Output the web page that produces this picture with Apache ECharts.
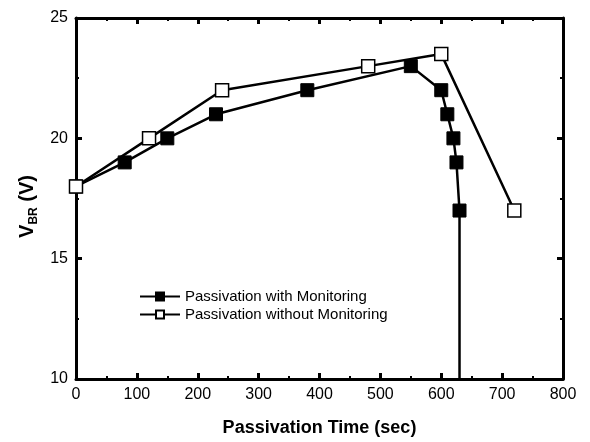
<!DOCTYPE html>
<html>
<head>
<meta charset="utf-8">
<script src="https://cdn.jsdelivr.net/npm/echarts@6/dist/echarts.min.js"></script>
<style>
  html, body { margin: 0; padding: 0; background: #fff; }
  #chart { width: 590px; height: 442px; }
</style>
</head>
<body>
<div id="chart"></div>
<script>
// data
const withMonX = [0, 80, 150, 230, 380, 550, 600, 610, 620, 625, 630];
const withMonY = [18, 19, 20, 21, 22, 23, 22, 21, 20, 19, 17];
// line drops straight down to the axis after the last point
const withMonDrop = [630, 10];

const withoutMonX = [0, 120, 240, 480, 600, 720];
const withoutMonY = [18, 20, 22, 23, 23.5, 17];

const seriesNames = ["Passivation with Monitoring", "Passivation without Monitoring"];

const font = "Liberation Sans, Arial, sans-serif";

function pairs(xs, ys) {
  return xs.map((x, i) => [x, ys[i]]);
}

const filledData = pairs(withMonX, withMonY);
filledData.push({ value: withMonDrop, symbol: "none" });

const axisLine = { show: true, onZero: false, lineStyle: { color: "#000", width: 3 } };
const tick = { show: true, inside: true, length: 6, lineStyle: { color: "#000", width: 3 } };
const minor = { show: true, splitNumber: 2, length: 3, lineStyle: { color: "#000", width: 2 } };

let chart = echarts.init(document.getElementById("chart"));
let option = {
  animation: false,
  backgroundColor: "#fff",
  grid: { left: 76, right: 27, top: 18, bottom: 62 },
  legend: {
    orient: "vertical",
    left: 134,
    top: 284,
    itemWidth: 40,
    itemHeight: 10,
    itemGap: 3,
    textStyle: { fontFamily: font, fontSize: 15, color: "#000" },
    data: seriesNames,
  },
  xAxis: [
    {
      type: "value",
      min: 0,
      max: 800,
      interval: 100,
      name: "Passivation Time (sec)",
      nameLocation: "middle",
      nameGap: 40,
      nameMoveOverlap: false,
      nameTextStyle: { fontFamily: font, fontSize: 18, fontWeight: "bold", color: "#000" },
      axisLine,
      axisTick: tick,
      minorTick: minor,
      splitLine: { show: false },
      axisLabel: { fontFamily: font, fontSize: 16, color: "#000", margin: 8 },
    },
    {
      type: "value",
      position: "top",
      min: 0,
      max: 800,
      interval: 100,
      axisLine,
      axisTick: tick,
      minorTick: minor,
      splitLine: { show: false },
      axisLabel: { show: false },
    },
  ],
  yAxis: [
    {
      type: "value",
      min: 10,
      max: 25,
      interval: 5,
      name: "{a|V}{b|BR}{a| (V)}",
      nameLocation: "middle",
      nameGap: 36,
      nameMoveOverlap: false,
      nameRotate: 90,
      nameTextStyle: {
        padding: [0, 16, 0, 0],
        rich: {
          a: { fontFamily: font, fontSize: 20, fontWeight: "bold", color: "#000", lineHeight: 26 },
          b: { fontFamily: font, fontSize: 12, fontWeight: "bold", color: "#000", verticalAlign: "bottom", lineHeight: 26 },
        },
      },
      axisLine,
      axisTick: tick,
      minorTick: minor,
      splitLine: { show: false },
      axisLabel: { fontFamily: font, fontSize: 16, color: "#000", margin: 8 },
    },
    {
      type: "value",
      position: "right",
      min: 10,
      max: 25,
      interval: 5,
      axisLine,
      axisTick: tick,
      minorTick: minor,
      splitLine: { show: false },
      axisLabel: { show: false },
    },
  ],
  series: [
    {
      name: seriesNames[0],
      type: "line",
      data: filledData,
      symbol: "rect",
      symbolSize: 13,
      showSymbol: true,
      lineStyle: { color: "#000", width: 2.5 },
      itemStyle: { color: "#000", borderColor: "#000", borderWidth: 1 },
      z: 2,
    },
    {
      name: seriesNames[1],
      type: "line",
      data: pairs(withoutMonX, withoutMonY),
      symbol: "rect",
      symbolSize: 13,
      lineStyle: { color: "#000", width: 2.5 },
      itemStyle: { color: "#fff", borderColor: "#000", borderWidth: 1.5 },
      z: 3,
    },
  ],
};
chart.setOption(option);
</script>
</body>
</html>
